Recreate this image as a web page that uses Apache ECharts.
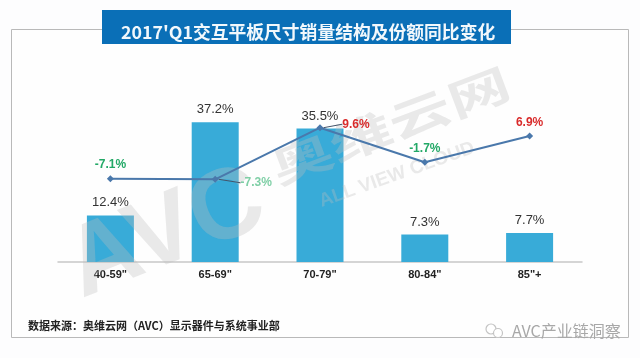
<!DOCTYPE html>
<html>
<head>
<meta charset="utf-8">
<style>
  html, body { margin: 0; padding: 0; background: #fdfdfe; }
  #chart { width: 640px; height: 358px; }
</style>
<script src="https://cdn.jsdelivr.net/npm/echarts@6/dist/echarts.min.js"></script>
</head>
<body>
<div id="chart"></div>
<script>
const categories = ['40-59"', '65-69"', '70-79"', '80-84"', '85"+']
const shareValues = [12.4, 37.2, 35.5, 7.3, 7.7]
const changeValues = [-7.1, -7.3, 9.6, -1.7, 6.9]
const titleText = "2017'Q1交互平板尺寸销量结构及份额同比变化"
const sourceText = '数据来源：奥维云网（AVC）显示器件与系统事业部'
const brandText = 'AVC产业链洞察'

const green = '#22a866'
const red = '#d92b2b'
const changeLabels = [
  { color: green, dx: 0, dy: 0 },
  { color: '#7fcfa6', dx: 41, dy: 17, line: true },
  { color: red, dx: 36, dy: 10, line: true },
  { color: green, dx: 0, dy: 0 },
  { color: red, dx: 0, dy: 0 }
]
const watermarkFill = 'rgba(190,190,190,0.32)'

const chartInstance = echarts.init(document.getElementById('chart'))

const option = {
  animation: false,
  backgroundColor: '#fdfdfe',
  title: {
    text: titleText,
    left: 116,
    top: 16,
    textStyle: {
      color: '#f2f8fc',
      fontFamily: '"Noto Sans CJK SC"',
      fontSize: 17.8,
      fontWeight: 'bold',
      lineHeight: 22
    },
    z: 12
  },
  grid: { left: 58, right: 58, top: 74, height: 188 },
  xAxis: {
    type: 'category',
    data: categories,
    axisTick: { show: false },
    axisLine: { lineStyle: { color: '#c8c8c8', width: 1.5 } },
    axisLabel: {
      color: '#222',
      fontFamily: 'Liberation Sans',
      fontWeight: 'bold',
      fontSize: 11,
      margin: 7
    }
  },
  yAxis: [
    { type: 'value', min: 0, max: 50, show: false },
    { type: 'value', min: -34.4, max: 27.2, show: false }
  ],
  series: [
    {
      name: '份额',
      type: 'bar',
      data: shareValues,
      barWidth: 47,
      itemStyle: { color: '#38abd8' },
      label: {
        show: true,
        position: 'top',
        distance: 6,
        color: '#333',
        fontFamily: 'Liberation Sans',
        fontSize: 13,
        formatter: (p) => p.value.toFixed(1) + '%'
      }
    },
    {
      name: '同比变化',
      type: 'line',
      yAxisIndex: 1,
      data: changeValues.map((v, i) => ({
        value: v,
        label: { color: changeLabels[i].color },
        labelLine: {
          show: !!changeLabels[i].line,
          lineStyle: { color: '#44546a', width: 1 }
        }
      })),
      symbol: 'diamond',
      symbolSize: 7,
      lineStyle: { color: '#4a78ab', width: 2 },
      itemStyle: { color: '#4a78ab' },
      label: {
        show: true,
        position: 'top',
        distance: 4,
        fontFamily: 'Liberation Sans',
        fontWeight: 'bold',
        fontSize: 12,
        formatter: (p) => p.value.toFixed(1) + '%'
      },
      labelLayout: (params) => ({
        dx: changeLabels[params.dataIndex].dx,
        dy: changeLabels[params.dataIndex].dy
      }),
      z: 5
    }
  ],
  graphic: [
    {
      type: 'rect',
      z: -1,
      shape: { x: 11.5, y: 29.5, width: 617, height: 308 },
      style: { fill: '#fefefe', stroke: '#b9b9b9', lineWidth: 1 }
    },
    {
      type: 'rect',
      z: 10,
      shape: { x: 102, y: 10, width: 409, height: 34 },
      style: { fill: '#0a6fb7' }
    },
    // 水印
    {
      type: 'text',
      z: 3,
      x: 90,
      y: 319,
      rotation: 0.38,
      style: {
        text: 'AVC',
        fill: watermarkFill,
        font: 'bold 100px "Liberation Sans"',
        textVerticalAlign: 'bottom'
      }
    },
    {
      type: 'text',
      z: 3,
      x: 280,
      y: 190,
      rotation: 0.36,
      scaleY: 0.68,
      style: {
        text: '奥维云网',
        fill: watermarkFill,
        font: 'bold 63px "Noto Sans CJK SC"',
        textVerticalAlign: 'bottom'
      }
    },
    {
      type: 'text',
      z: 3,
      x: 323,
      y: 211,
      rotation: 0.34,
      style: {
        text: 'ALL VIEW CLOUD',
        fill: watermarkFill,
        font: 'bold 19px "Liberation Sans"',
        textVerticalAlign: 'bottom'
      }
    },
    {
      type: 'text',
      z: 21,
      x: 28,
      y: 326,
      style: {
        text: sourceText,
        fill: '#222',
        font: 'bold 11px "Noto Sans CJK SC"',
        textVerticalAlign: 'middle'
      }
    },
    {
      type: 'circle',
      z: 21,
      shape: { cx: 491, cy: 329, r: 5 },
      style: { fill: '#fff', stroke: '#c4c4c4', lineWidth: 1.2 }
    },
    {
      type: 'circle',
      z: 21,
      shape: { cx: 498, cy: 333, r: 4.5 },
      style: { fill: '#fff', stroke: '#c4c4c4', lineWidth: 1.2 }
    },
    {
      type: 'text',
      z: 21,
      x: 512,
      y: 331,
      style: {
        text: brandText,
        fill: '#a8a8a8',
        font: '16px "Noto Sans CJK SC"',
        textVerticalAlign: 'middle'
      }
    }
  ]
}
chartInstance.setOption(option)
</script>
</body>
</html>
